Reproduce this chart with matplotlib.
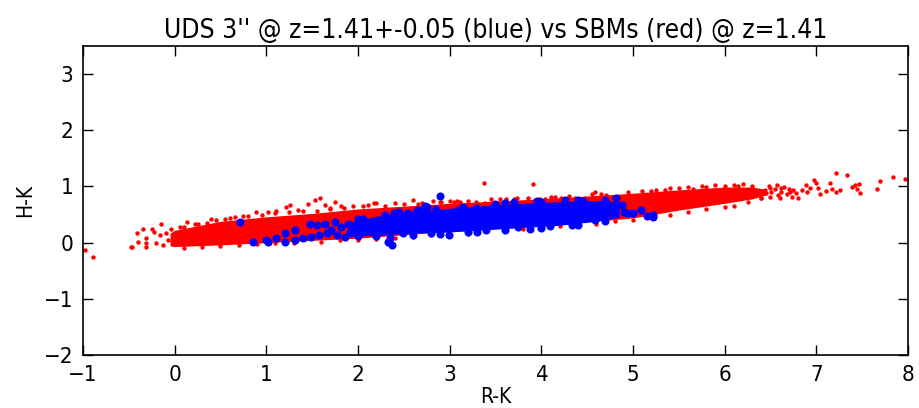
import numpy as np
import matplotlib
matplotlib.use("Agg")
import matplotlib.pyplot as plt

plt.rcParams['font.family'] = ['DejaVu Sans']
plt.rcParams['font.stretch'] = 'condensed'
plt.rcParams['xtick.direction'] = 'in'
plt.rcParams['ytick.direction'] = 'in'

# dense red core (SBMs), edges
core_x = [-0.05, 0.0, 0.5, 1.0, 1.5, 2.0, 2.5, 3.0, 3.5, 4.0, 4.5, 5.0, 5.5, 6.0, 6.3, 6.45]
core_lo = [-0.06, -0.07, -0.04, 0.0, 0.04, 0.08, 0.14, 0.20, 0.25, 0.30, 0.37, 0.44, 0.58, 0.70, 0.78, 0.85]
core_hi = [0.17, 0.22, 0.38, 0.46, 0.52, 0.60, 0.65, 0.70, 0.74, 0.78, 0.83, 0.88, 0.94, 0.99, 0.99, 0.95]

# dense blue core (UDS)
bcore_x = [1.9, 2.2, 2.6, 3.0, 3.4, 3.8, 4.2, 4.6, 4.85]
bcore_lo = [0.11, 0.13, 0.17, 0.19, 0.23, 0.27, 0.31, 0.38, 0.45]
bcore_hi = [0.36, 0.47, 0.55, 0.61, 0.66, 0.70, 0.73, 0.75, 0.73]

# individual red points
red_x = [-0.98, -0.89, -0.47, -0.48, -0.41, -0.34, -0.31, -0.31, -0.25, -0.23, -0.20, -0.15,
         -0.16, -0.13, -0.09, -0.07, -0.04, -0.02, -0.31, -0.40, 0.13, 0.22, 0.06, 0.35,
         0.40, 0.55, 0.66, 0.80,
         0.89, 1.02, 1.11, 1.22, 1.26, 1.46, 1.53, 1.59, 1.64, 1.75, 1.82, 1.35, 1.70, 1.95, 2.05,
         2.11, 2.17, 2.20, 2.60, 2.82, 2.91, 3.00, 3.08, 3.11, 3.29, 3.37, 3.39, 2.40, 2.70,
         3.91, 3.73, 3.93, 3.99, 4.04, 4.11, 4.22, 4.37, 4.48, 4.59, 4.71, 4.80, 4.86, 3.55, 3.62,
         5.10, 5.25, 5.40, 5.60, 5.75, 5.90, 6.10, 6.20,
         6.40, 6.48, 6.51, 6.57, 6.58, 6.62, 6.65, 6.71, 6.73, 6.78, 6.80, 6.84, 6.89, 6.98,
         7.00, 7.02, 7.04, 7.11, 7.15, 7.17, 7.21, 7.22, 7.26, 7.34, 7.39, 7.42, 7.44, 7.47,
         7.48, 7.66, 7.69, 7.84, 7.97,
         6.45, 6.50, 6.55, 6.60, 6.68, 6.70, 6.75, 6.90, 6.93, 6.50, 6.44, 6.62,
         0.30, 0.70, 1.30, 2.00, 2.60, 3.20, 3.80, 4.40, 5.00, 5.60, 6.10,
         # along the top of the core
         0.10, 0.25, 0.45, 0.60, 0.75, 0.95, 1.10, 1.25, 1.40, 1.55, 1.70, 1.85, 2.30, 2.50,
         2.65, 2.90, 3.05, 3.20, 3.45, 3.70, 3.85, 4.15, 4.30, 4.55, 4.65, 4.95, 5.20, 5.35,
         5.50, 5.65, 5.80, 6.00, 6.15, 6.30,
         # along the bottom of the core
         0.10, 0.50, 0.90, 1.10, 1.60, 1.80, 2.20, 2.40, 2.80, 3.00, 3.40, 3.60, 4.00, 4.20,
         4.60, 4.80, 5.20, 5.40, 5.80, 6.00, 6.25, 6.40]
red_y = [-0.13, -0.25, -0.07, -0.08, 0.18, 0.25, 0.08, -0.07, 0.24, 0.19, 0.00, 0.33,
         0.14, -0.04, 0.18, 0.05, 0.24, 0.10, 0.00, 0.02, 0.37, 0.34, 0.28, 0.35,
         0.42, 0.43, 0.46, 0.48,
         0.55, 0.55, 0.57, 0.64, 0.67, 0.69, 0.76, 0.79, 0.67, 0.73, 0.65, 0.58, 0.62, 0.66, 0.65,
         0.67, 0.71, 0.70, 0.76, 0.75, 0.73, 0.75, 0.75, 0.73, 0.73, 1.07, 0.70, 0.70, 0.71,
         1.04, 0.80, 0.76, 0.77, 0.77, 0.82, 0.79, 0.79, 0.79, 0.91, 0.85, 0.82, 0.79, 0.77, 0.78,
         0.92, 0.93, 0.97, 0.99, 1.00, 1.03, 1.03, 1.04,
         0.79, 1.01, 0.91, 1.02, 0.85, 0.91, 0.99, 0.91, 0.82, 0.88, 0.79, 0.94, 1.03, 1.11,
         1.06, 0.97, 0.86, 0.92, 1.07, 0.95, 0.91, 1.24, 0.94, 1.21, 0.99, 1.02, 0.95, 1.04,
         0.89, 0.95, 1.10, 1.17, 1.13,
         0.88, 0.82, 0.95, 0.80, 0.86, 0.96, 0.93, 0.90, 0.97, 0.97, 0.93, 0.97,
         -0.07, -0.04, 0.00, 0.05, 0.10, 0.16, 0.24, 0.32, 0.40, 0.54, 0.66,
         0.27, 0.33, 0.40, 0.44, 0.47, 0.49, 0.52, 0.54, 0.56, 0.57, 0.60, 0.62, 0.66, 0.69,
         0.68, 0.72, 0.72, 0.74, 0.77, 0.78, 0.80, 0.81, 0.83, 0.86, 0.87, 0.90, 0.92, 0.94,
         0.97, 0.96, 0.99, 1.01, 1.00, 1.01,
         -0.09, -0.06, -0.02, -0.01, 0.02, 0.04, 0.07, 0.09, 0.13, 0.16, 0.20, 0.22, 0.27, 0.29,
         0.34, 0.38, 0.45, 0.50, 0.60, 0.64, 0.72, 0.80]

# individual blue points
blue_x = [0.71, 0.86, 1.00, 1.02, 1.11, 1.20, 1.20, 1.31, 1.31, 1.40, 1.48, 1.49, 1.55, 1.57,
          1.64, 1.66, 1.71, 1.75, 1.77, 1.82, 1.86, 1.89, 1.91,
          2.89, 2.35, 2.37, 2.33, 2.75, 2.73, 2.99, 2.39, 2.55, 2.64, 3.09, 3.29, 3.20, 2.49,
          2.13, 1.95,
          4.26, 3.88, 3.75, 4.33, 4.59, 4.82,
          4.88, 4.90, 4.95, 5.00, 5.09, 5.15, 5.22, 5.22,
          2.05, 2.50, 3.60, 4.00, 4.45, 3.40, 4.10, 2.80,
          2.00, 2.30, 2.45, 2.70, 2.85, 3.15, 3.50, 3.70, 3.95, 4.40, 4.70,
          2.00, 2.20, 2.60, 2.90, 3.30, 3.60, 4.00, 4.40, 4.70]
blue_y = [0.37, 0.02, 0.05, 0.02, 0.09, 0.17, 0.02, 0.22, 0.05, 0.08, 0.34, 0.10, 0.31, 0.14,
          0.34, 0.17, 0.22, 0.37, 0.14, 0.28, 0.10, 0.34, 0.19,
          0.83, 0.08, -0.04, 0.02, 0.63, 0.65, 0.14, 0.52, 0.53, 0.59, 0.59, 0.61, 0.19, 0.17,
          0.22, 0.28,
          0.76, 0.25, 0.28, 0.31, 0.40, 0.79,
          0.67, 0.55, 0.52, 0.53, 0.58, 0.47, 0.49, 0.46,
          0.42, 0.47, 0.70, 0.72, 0.75, 0.22, 0.30, 0.18,
          0.42, 0.50, 0.55, 0.58, 0.60, 0.64, 0.68, 0.72, 0.74, 0.76, 0.76,
          0.12, 0.11, 0.14, 0.16, 0.19, 0.22, 0.26, 0.31, 0.38]

fig = plt.figure(figsize=(9.19, 4.08), dpi=100)
ax = fig.add_axes([0.0903, 0.130, 0.8977, 0.757])

ax.fill_between(core_x, core_lo, core_hi, color='red', lw=0)
ax.scatter(red_x, red_y, s=10, c='red', lw=0)
ax.fill_between(bcore_x, bcore_lo, bcore_hi, color='blue', lw=0)
ax.scatter(blue_x, blue_y, s=34, c='blue', lw=0)

ax.set_xlim(-1, 8)
ax.set_ylim(-2, 3.5)
ax.set_xticks(range(-1, 9))
ax.set_yticks(range(-2, 4))
ax.tick_params(axis='both', which='major', labelsize=16, length=7, width=1,
               top=True, right=True, pad=7)
for s in ax.spines.values():
    s.set_linewidth(1.2)

ax.set_xlabel('R-K', fontsize=15, labelpad=2)
ax.set_ylabel('H-K', fontsize=15, labelpad=6)
ax.set_title("UDS 3'' @ z=1.41+-0.05 (blue) vs SBMs (red) @ z=1.41", fontsize=19, pad=6)

fig.savefig('out.png', dpi=100)
